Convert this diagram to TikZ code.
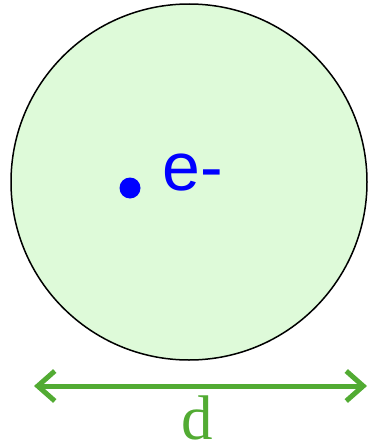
\documentclass[tikz,border=0pt]{standalone}
\usepackage{fontspec}
\setmainfont{Liberation Serif}
\newfontfamily\labelsans{Liberation Sans}
\usepackage{xcolor}
\definecolor{atomfill}{rgb}{0.87, 0.98, 0.85}
\definecolor{sizegreen}{rgb}{0.32, 0.67, 0.2}
\definecolor{electronblue}{rgb}{0.0, 0.0, 1.0}
\usepackage{tikz}
\usetikzlibrary{arrows.meta,positioning}
\tikzset{
  atom/.style={circle,draw,line width=1.5pt,fill=atomfill,minimum size=356pt,inner sep=0pt},
  electron/.style={circle,fill=electronblue,minimum size=21pt,inner sep=0pt},
  charge/.style={text=electronblue,font=\labelsans\fontsize{68}{68}\selectfont,inner sep=0pt,anchor=base west},
  span/.style={{Straight Barb[length=17pt,width=30pt]}-{Straight Barb[length=17pt,width=30pt]},line width=5pt,draw=sizegreen,line cap=round},
  dlabel/.style={text=sizegreen,font=\fontsize{63}{63}\selectfont,inner sep=0pt,anchor=base}
}

\begin{document}
\begin{tikzpicture}[x=1pt,y=-1pt]
  \useasboundingbox (0,0) rectangle (369,447);

  \node[atom] (atom) at (189,182) {};
  \node[electron] (e) at (130,188) {};
  \node[charge] (elabel) at (162,190) {e-};

  % diameter
  \coordinate (left) at (34,386);
  \coordinate (right) at (367,386);
  \draw[span] (left) -- (right);
  \node[dlabel] (d) at (197,439) {d};
\end{tikzpicture}
\end{document}
